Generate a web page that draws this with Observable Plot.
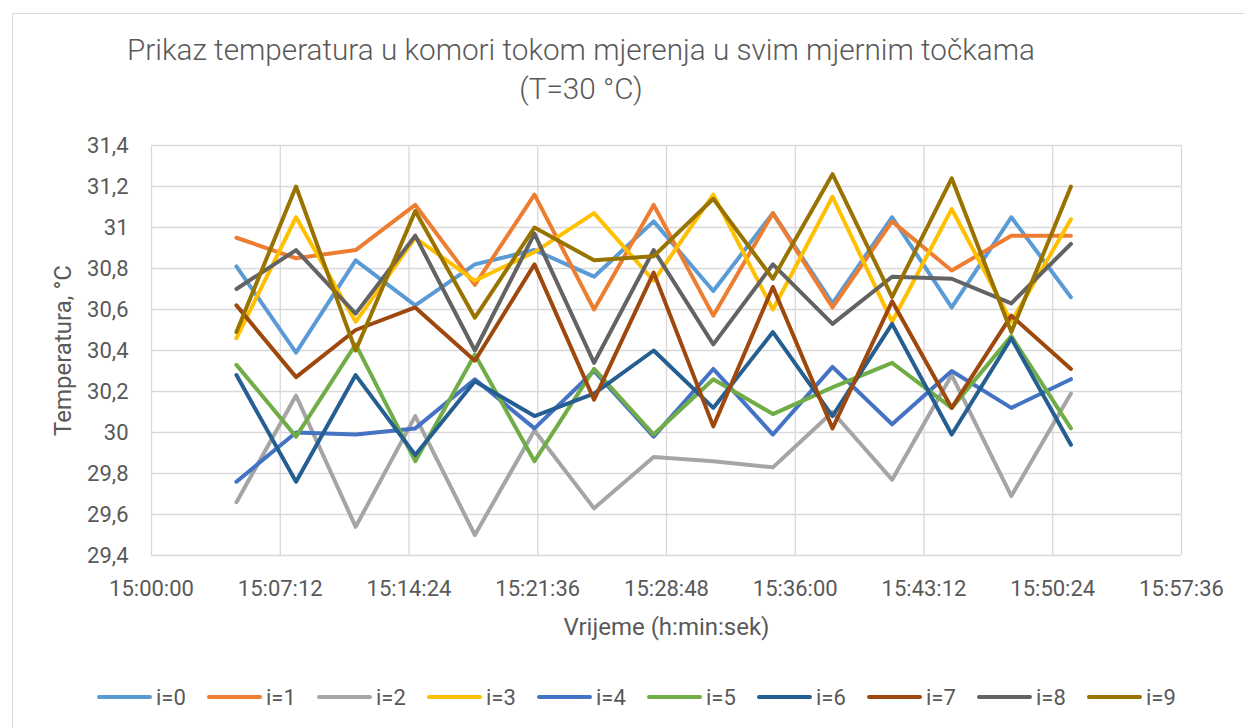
<!DOCTYPE html>
<html><head><meta charset="utf-8">
<script src="https://cdn.jsdelivr.net/npm/d3@7"></script>
<script src="https://cdn.jsdelivr.net/npm/@observablehq/plot@0.6"></script>
<style>
html,body{margin:0;padding:0;background:#fff;}
body{width:1244px;height:728px;position:relative;overflow:hidden;font-family:Roboto,"Liberation Sans",sans-serif;color:#595959;}
#frame{position:absolute;left:12px;top:13px;width:1300px;height:800px;border:1.5px solid #d9d9d9;box-sizing:border-box;}
#title{position:absolute;left:0;top:30px;width:1162px;text-align:center;font-size:29.7px;line-height:39px;font-weight:300;color:#595959;}
#chart{position:absolute;left:0;top:115px;}
#chart svg [aria-label="x-axis label"] text, #chart svg [aria-label="y-axis label"] text{font-size:24px;}
#legend{position:absolute;left:97px;top:685px;display:flex;}
.item{width:110px;display:flex;align-items:center;height:24px;}
.sw{width:55px;height:4px;border-radius:2px;margin-right:4px;}
.lab{font-size:22px;color:#595959;}
</style></head>
<body>
<div id="frame"></div>
<div id="title">Prikaz temperatura u komori tokom mjerenja u svim mjernim točkama<br>(T=30 °C)</div>
<div id="chart"></div>
<div id="legend"></div>
<script>
const seriesNames = ["i=0","i=1","i=2","i=3","i=4","i=5","i=6","i=7","i=8","i=9"];
const seriesColors = ["#5B9BD5","#ED7D31","#A5A5A5","#FFC000","#4472C4","#70AD47","#255E91","#9E480E","#636363","#997300"];
const times = ["15:04:45","15:08:05","15:11:25","15:14:45","15:18:05","15:21:25","15:24:45","15:28:05","15:31:25","15:34:45","15:38:05","15:41:25","15:44:45","15:48:05","15:51:25"];
const xTickLabels = ["15:00:00","15:07:12","15:14:24","15:21:36","15:28:48","15:36:00","15:43:12","15:50:24","15:57:36"];
const yTicks = [29.4,29.6,29.8,30,30.2,30.4,30.6,30.8,31,31.2,31.4];

const i0 = [30.81,30.39,30.84,30.62,30.82,30.89,30.76,31.03,30.69,31.07,30.63,31.05,30.61,31.05,30.66];
const i1 = [30.95,30.85,30.89,31.11,30.72,31.16,30.60,31.11,30.57,31.07,30.61,31.03,30.79,30.96,30.96];
const i2 = [29.66,30.18,29.54,30.08,29.50,30.01,29.63,29.88,29.86,29.83,30.10,29.77,30.28,29.69,30.19];
const i3 = [30.46,31.05,30.54,30.95,30.74,30.88,31.07,30.74,31.16,30.60,31.15,30.54,31.09,30.54,31.04];
const i4 = [29.76,30.00,29.99,30.02,30.26,30.02,30.30,29.98,30.31,29.99,30.32,30.04,30.30,30.12,30.26];
const i5 = [30.33,29.98,30.43,29.86,30.38,29.86,30.31,29.99,30.26,30.09,30.22,30.34,30.12,30.47,30.02];
const i6 = [30.28,29.76,30.28,29.89,30.25,30.08,30.19,30.40,30.12,30.49,30.08,30.53,29.99,30.46,29.94];
const i7 = [30.62,30.27,30.50,30.61,30.35,30.82,30.16,30.78,30.03,30.71,30.02,30.64,30.12,30.57,30.31];
const i8 = [30.70,30.89,30.58,30.96,30.40,30.97,30.34,30.89,30.43,30.82,30.53,30.76,30.75,30.63,30.92];
const i9 = [30.49,31.20,30.40,31.08,30.56,31.00,30.84,30.86,31.14,30.75,31.26,30.66,31.24,30.49,31.20];
const seriesValues = [i0,i1,i2,i3,i4,i5,i6,i7,i8,i9];

const parse = d3.utcParse("%H:%M:%S");
const xTicks = xTickLabels.map(parse);
const rows = [];
seriesNames.forEach((s, j) => {
  times.forEach((t, k) => rows.push({series: s, time: parse(t), value: seriesValues[j][k]}));
});
const fmtY = d => d3.format(".1~f")(d).replace(".", ",");

const chart = Plot.plot({
  width: 1244, height: 545,
  marginLeft: 151, marginRight: 63, marginTop: 30, marginBottom: 105,
  style: {fontFamily: "Roboto, 'Liberation Sans', sans-serif", fontSize: "22px", color: "#595959", background: "transparent", overflow: "visible"},
  x: {type: "utc", domain: [xTicks[0], xTicks[xTicks.length - 1]]},
  y: {domain: [yTicks[0], yTicks[yTicks.length - 1]]},
  color: {domain: seriesNames, range: seriesColors},
  marks: [
    Plot.gridX({ticks: xTicks, stroke: "#d9d9d9", strokeOpacity: 1, strokeWidth: 1.3}),
    Plot.gridY({ticks: yTicks, stroke: "#d9d9d9", strokeOpacity: 1, strokeWidth: 1.3}),
    Plot.axisX({ticks: xTicks, tickSize: 0, tickPadding: 25, tickFormat: d3.utcFormat("%H:%M:%S"), label: "Vrijeme (h:min:sek)", labelAnchor: "center", labelOffset: 79, labelArrow: "none", fill: "#595959"}),
    Plot.axisY({ticks: yTicks, tickSize: 0, tickPadding: 23, tickFormat: fmtY, label: "Temperatura, °C", labelAnchor: "center", labelOffset: 98, labelArrow: "none", fill: "#595959"}),
    Plot.line(rows, {x: "time", y: "value", z: "series", stroke: "series", strokeWidth: 4, strokeLinejoin: "round", strokeLinecap: "round"})
  ]
});
document.getElementById("chart").appendChild(chart);

const legend = document.getElementById("legend");
seriesNames.forEach((s, j) => {
  const it = document.createElement("div");
  it.className = "item";
  it.innerHTML = `<div class="sw" style="background:${seriesColors[j]}"></div><span class="lab">${s}</span>`;
  legend.appendChild(it);
});
</script>
</body></html>
